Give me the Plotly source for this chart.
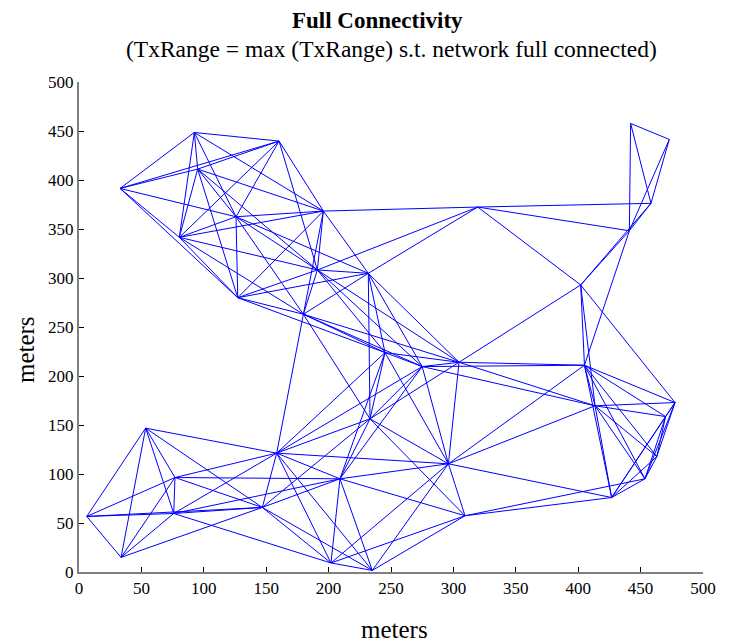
import plotly.graph_objects as go

# Node positions (meters)
node_x = [32.9, 92.4, 160.3, 95.1, 80.4, 125.8, 127.2, 195.8, 191.0, 179.8, 231.8, 319.5, 442.0, 473.0,
          458.3, 441.0, 402.0, 405.0, 413.5, 477.6, 470.0, 426.8, 453.5, 463.0, 245.2, 275.0, 304.5,
          233.2, 296.0, 209.1, 309.3, 201.9, 235.0, 6.2, 33.7, 76.9, 75.9, 146.9, 158.4, 53.4]
node_y = [391.4, 448.5, 439.7, 411.1, 341.5, 362.5, 279.9, 368.3, 308.2, 263.0, 304.8, 372.4, 457.7, 441.4,
          376.2, 348.2, 292.9, 211.0, 169.6, 172.9, 158.6, 76.0, 95.1, 117.8, 223.9, 209.6, 214.0,
          156.3, 110.4, 95.1, 57.4, 9.2, 1.6, 56.7, 14.9, 96.4, 59.7, 65.9, 121.3, 146.8]

# Links (node index pairs)
edge_from = [0, 0, 0, 0, 0, 0,
             1, 1, 1, 1, 1,
             2, 2, 2, 2, 2,
             3, 3, 3, 3, 3,
             4, 4, 4, 4, 4,
             5, 5, 5, 5, 5,
             6, 6, 6, 6, 6,
             7, 7, 7, 7,
             8, 8, 8, 8, 8, 8,
             9, 9, 9, 9, 9, 9,
             10, 10, 10, 10, 10,
             11, 11, 11,
             12, 12, 12,
             13, 13,
             14, 14,
             15, 15,
             16, 16, 16, 16,
             17, 17, 17, 17, 17, 17, 17, 17, 17,
             18, 18, 18, 18, 18, 18, 18, 18,
             19, 19, 19, 19,
             20, 20, 20,
             21, 21, 21, 21,
             22, 22,
             24, 24, 24, 24, 24, 24,
             25, 25, 25, 25, 25,
             26, 26,
             27, 27, 27, 27, 27,
             28, 28, 28, 28, 28,
             29, 29, 29, 29, 29, 29, 29,
             30, 30,
             31, 31, 31, 31,
             32, 32,
             33, 33, 33, 33, 33,
             34, 34, 34, 34,
             35, 35, 35, 35,
             36, 36, 36,
             37, 37,
             38]
edge_to = [1, 2, 3, 4, 5, 6,
           2, 3, 4, 5, 7,
           3, 4, 5, 7, 8,
           4, 5, 6, 7, 8,
           5, 6, 7, 8, 9,
           6, 7, 8, 9, 10,
           7, 8, 9, 10, 24,
           8, 9, 10, 11,
           9, 10, 11, 24, 25, 26,
           10, 24, 25, 26, 27, 38,
           11, 24, 25, 26, 27,
           14, 15, 16,
           13, 14, 15,
           14, 15,
           15, 16,
           16, 17,
           17, 18, 19, 26,
           18, 19, 20, 21, 22, 23, 25, 26, 28,
           19, 20, 21, 22, 23, 25, 26, 28,
           20, 21, 22, 23,
           21, 22, 23,
           22, 23, 28, 30,
           23, 30,
           25, 26, 27, 28, 29, 38,
           26, 27, 28, 29, 38,
           27, 28,
           28, 29, 30, 37, 38,
           29, 30, 31, 32, 38,
           30, 31, 32, 35, 36, 37, 38,
           31, 32,
           32, 36, 37, 38,
           37, 38,
           34, 35, 36, 37, 39,
           35, 36, 37, 39,
           36, 37, 38, 39,
           37, 38, 39,
           38, 39,
           39]

ex, ey = [], []
for i, j in zip(edge_from, edge_to):
    ex += [node_x[i], node_x[j], None]
    ey += [node_y[i], node_y[j], None]

fig = go.Figure()
fig.add_trace(go.Scatter(x=ex, y=ey, mode="lines", line=dict(color="#0000FF", width=1),
                         hoverinfo="skip", showlegend=False))

font_family = "Liberation Serif, Times New Roman, serif"
fig.update_layout(
    width=721, height=636,
    margin=dict(l=71, r=26, t=73.7, b=71.7, autoexpand=False),
    paper_bgcolor="white", plot_bgcolor="white",
    font=dict(family=font_family, size=17, color="black"),
    showlegend=False,
    annotations=[
        dict(text="<b>Full Connectivity</b>", xref="paper", yref="paper", x=0.479, y=1.1258,
             xanchor="center", yanchor="middle", showarrow=False, font=dict(size=23, family=font_family)),
        dict(text="(TxRange = max (TxRange) s.t. network full connected)", xref="paper", yref="paper",
             x=0.5016, y=1.0666, xanchor="center", yanchor="middle", showarrow=False,
             font=dict(size=23.5, family=font_family)),
        dict(text="meters", xref="paper", yref="paper", x=0.506, y=-0.1176,
             xanchor="center", yanchor="middle", showarrow=False, font=dict(size=25, family=font_family)),
        dict(text="meters", xref="paper", yref="paper", x=-0.0865, y=0.453, textangle=-90,
             xanchor="center", yanchor="middle", showarrow=False, font=dict(size=25, family=font_family)),
    ],
)
fig.update_xaxes(range=[0, 500], tickvals=list(range(0, 501, 50)), ticks="inside", ticklen=5,
                 tickcolor="black", showline=True, linecolor="#808080", linewidth=2, showgrid=False,
                 zeroline=False, automargin=False, tickfont=dict(size=17))
fig.update_yaxes(range=[0, 500], tickvals=list(range(0, 501, 50)), ticks="inside", ticklen=5,
                 tickcolor="black", showline=True, linecolor="#808080", linewidth=2, showgrid=False,
                 zeroline=False, automargin=False, tickfont=dict(size=17))

fig.write_html("out.html")
